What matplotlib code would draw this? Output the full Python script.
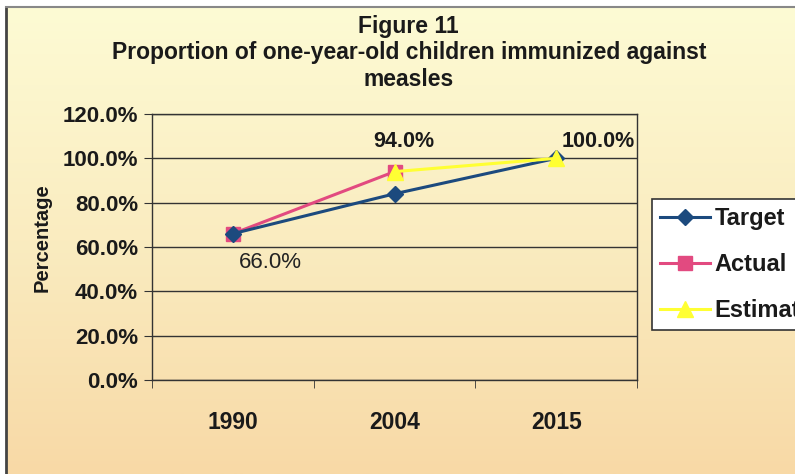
import numpy as np
import matplotlib
matplotlib.use("Agg")
import matplotlib.pyplot as plt
from matplotlib.colors import LinearSegmentedColormap

plt.rcParams['font.family'] = ['Liberation Sans', 'DejaVu Sans']

years = ["1990", "2004", "2015"]
target = [66.0, 84.0, 100.0]
actual = [66.0, 94.0, None]
estimate = [None, 94.0, 100.0]
yticks = [0, 20, 40, 60, 80, 100, 120]

W, H = 795, 474
fig = plt.figure(figsize=(W / 100, H / 100), dpi=100)
fig.patch.set_facecolor("white")

# background gradient panel
bg = fig.add_axes([6 / W, 0, 1 - 6 / W, 1 - 7 / H], zorder=0)
cmap = LinearSegmentedColormap.from_list("bg", ["#FDFBD4", "#FAECC0", "#F8D9A6"])
grad = np.linspace(0, 1, 256).reshape(-1, 1)
bg.imshow(grad, aspect="auto", cmap=cmap, extent=[0, 1, 0, 1], origin="upper")
bg.set_xlim(0, 1); bg.set_ylim(0, 1)
bg.set_xticks([]); bg.set_yticks([])
for s in ["right", "bottom"]:
    bg.spines[s].set_visible(False)
bg.spines["left"].set_color("#444444"); bg.spines["left"].set_linewidth(2)
bg.spines["top"].set_color("#888888"); bg.spines["top"].set_linewidth(1.5)

ax = fig.add_axes([152 / W, 1 - 380 / H, (637 - 152) / W, (380 - 114) / H], zorder=1)
ax.patch.set_alpha(0)

x = np.arange(len(years))
def arr(v):
    return np.array([np.nan if a is None else a for a in v], dtype=float)

ax.plot(x, arr(target), color="#1C4A7E", lw=2.2, marker="D", ms=8, zorder=3, label="Target")
ax.plot(x, arr(actual), color="#E24A80", lw=2.2, marker="s", ms=10, zorder=2, label="Actual")
ax.plot(x, arr(estimate), color="#FFFF33", lw=2.2, marker="^", ms=11, zorder=4, label="Estimate")

ax.set_xlim(-0.5, 2.5)
ax.set_ylim(0, 120)
ax.set_yticks(yticks)
ax.set_yticklabels([f"{v:.1f}%" for v in yticks], fontsize=16, fontweight="bold", color="#1A1A1A")
ax.yaxis.grid(True, color="#333333", lw=1)
ax.set_axisbelow(True)
ax.set_xticks(x)
ax.set_xticklabels(years, fontsize=16.5, fontweight="bold", color="#1A1A1A")
ax.set_xticks([-0.5, 0.5, 1.5, 2.5], minor=True)
ax.tick_params(axis="x", which="major", length=0, pad=22)
ax.tick_params(axis="x", which="minor", length=6, direction="out", color="#333333")
ax.tick_params(axis="y", length=6, direction="out", color="#333333", pad=4)
for s in ax.spines.values():
    s.set_color("#333333")
    s.set_linewidth(1)

fig.text(42 / W, 1 - 238 / H, "Percentage", rotation=90, ha="center", va="center",
         fontsize=14.5, fontweight="bold", color="#1A1A1A")

# data labels
ax.annotate(f"{target[0]:.1f}%", (x[0], target[0]), xytext=(4, -21), textcoords="offset points",
            ha="left", va="center", fontsize=16, color="#222222")
ax.annotate(f"{actual[1]:.1f}%", (x[1], actual[1]), xytext=(7, 22), textcoords="offset points",
            ha="center", va="center", fontsize=15.5, fontweight="bold", color="#1A1A1A")
ax.annotate(f"{estimate[2]:.1f}%", (x[2], estimate[2]), xytext=(4, 12), textcoords="offset points",
            ha="left", va="center", fontsize=15.5, fontweight="bold", color="#1A1A1A")

fig.text(408 / W, 1 - 27 / H, "Figure 11", ha="center", va="center",
         fontsize=16.5, fontweight="bold", color="#1A1A1A")
fig.text(409 / W, 1 - 53 / H, "Proportion of one-year-old children immunized against",
         ha="center", va="center", fontsize=16.5, fontweight="bold", color="#1A1A1A")
fig.text(409 / W, 1 - 80 / H, "measles", ha="center", va="center",
         fontsize=16.5, fontweight="bold", color="#1A1A1A")

leg = fig.legend(loc="upper left", bbox_to_anchor=(652 / W, 1 - 199 / H), frameon=True, fancybox=False,
                 edgecolor="#333333", facecolor="white", framealpha=1,
                 prop={"size": 17, "weight": "bold"}, handlelength=2.1, labelspacing=0.97,
                 borderpad=0.35, handletextpad=0.2, borderaxespad=0)
leg.get_frame().set_linewidth(1.2)
for t in leg.get_texts():
    t.set_color("#1A1A1A")
leg.set_zorder(5)

fig.savefig("out.png", dpi=100)
